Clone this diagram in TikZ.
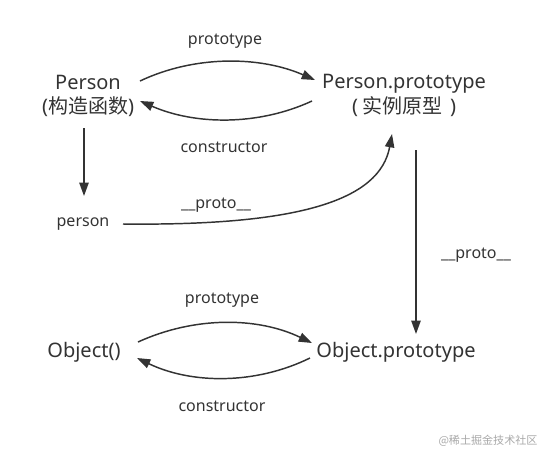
\documentclass[tikz,border=0pt]{standalone}
\usepackage{fontspec}
\setmainfont{Noto Sans}
\newfontfamily\cjk{Noto Sans CJK SC}
\usetikzlibrary{arrows.meta,calc}
\definecolor{ink}{HTML}{333333}
\definecolor{wm}{HTML}{A8A8A8}
\begin{document}
\begin{tikzpicture}[x=0.75pt,y=-0.75pt,
  big/.style={font=\fontsize{15}{18}\selectfont,text=ink,inner sep=1pt},
  small/.style={font=\fontsize{12}{14}\selectfont,text=ink,inner sep=1pt},
  arr/.style={draw=ink,line width=1.1pt,-{Triangle[length=10pt,width=7pt]}}]
\useasboundingbox (0,0) rectangle (543,451);
% nodes
\node[big] (P) at (88,82) {Person};
\node[big] (Pc) at (88,107) {(\cjk 构造函数\rmfamily)};
\node[big] (PP) at (404,84) {Person.prototype};
\node[big] (PPc) at (404,107) {(\hspace{3pt}{\cjk 实例原型}\hspace{6pt})};
\node[small] (per) at (83,224) {person};
\node[big] (O) at (84,352) {Object()};
\node[big] (OP) at (396,352) {Object.prototype};
% labels
\node[small] (l1) at (225,41) {prototype};
\node[small] (l2) at (224,147) {constructor};
\node[small] (l3) at (216,205) {\_\_proto\_\_};
\node[small] (l4) at (476,255) {\_\_proto\_\_};
\node[small] (l5) at (222,300) {prototype};
\node[small] (l6) at (222,406) {constructor};
\node[font=\fontsize{8.3}{10}\selectfont\cjk,text=wm,inner sep=0pt] (wmk) at (488,441) {@稀土掘金技术社区};
% connectors
\draw[arr] ($(P.center)+(52,-1)$) .. controls +(55,-26) and +(-55,-24) .. ($(PP.center)+(-89,-4)$);
\draw[arr] ($(PPc.center)+(-92,-6)$) .. controls +(-54,25) and +(55,24) .. ($(Pc.center)+(52,-6)$);
\draw[arr] ($(Pc.center)+(-4,21)$) -- ($(per.center)+(1,-28)$);
\draw[arr] ($(per.center)+(40,0)$) .. controls +(177,2) and +(-12,66) .. ($(PPc.center)+(-12,27)$);
\draw[arr] ($(PPc.center)+(12,43)$) -- ($(OP.center)+(20,-18)$);
\draw[arr] ($(O.center)+(54,-10)$) .. controls +(57,-26) and +(-54,-26) .. ($(OP.center)+(-84,-9)$);
\draw[arr] ($(OP.center)+(-86,6)$) .. controls +(-55,27) and +(54,26) .. ($(O.center)+(53,6)$);
\end{tikzpicture}
\end{document}
